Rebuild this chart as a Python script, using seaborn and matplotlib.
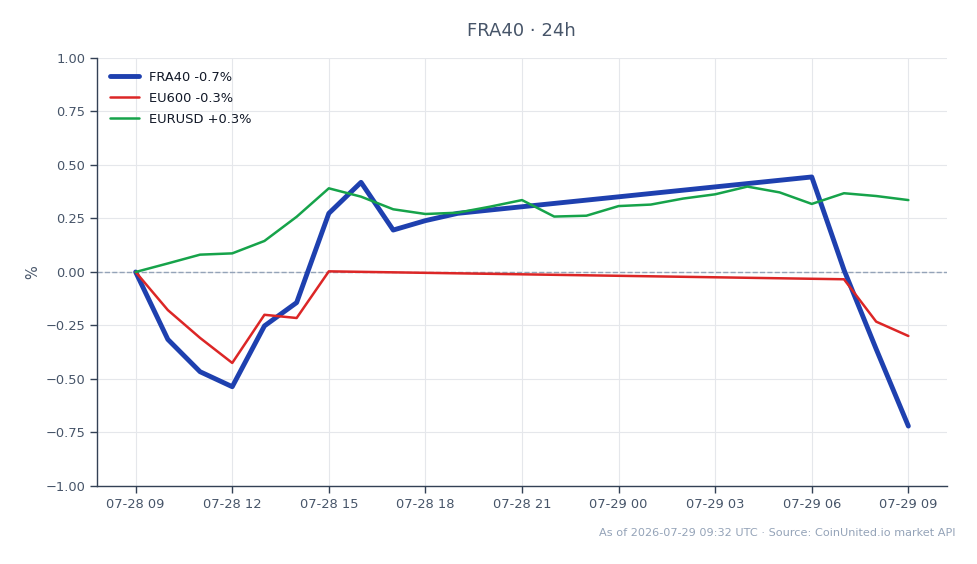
import matplotlib
matplotlib.use("Agg")
import matplotlib.pyplot as plt
import matplotlib.dates as mdates
import seaborn as sns
import pandas as pd
import numpy as np

# ---- data ----
fra40_times = ["2026-07-28 09:00", "2026-07-28 10:00", "2026-07-28 11:00", "2026-07-28 12:00",
               "2026-07-28 13:00", "2026-07-28 14:00", "2026-07-28 15:00", "2026-07-28 16:00",
               "2026-07-28 17:00", "2026-07-28 18:00", "2026-07-28 19:00",
               "2026-07-29 06:00", "2026-07-29 07:00", "2026-07-29 08:00", "2026-07-29 09:00"]
fra40_values = [0.0, -0.315, -0.466, -0.536, -0.252, -0.143, 0.274, 0.419,
                0.196, 0.240, 0.274, 0.444, 0.01, -0.36, -0.72]

eu600_times = ["2026-07-28 09:00", "2026-07-28 10:00", "2026-07-28 11:00", "2026-07-28 12:00",
               "2026-07-28 13:00", "2026-07-28 14:00", "2026-07-28 15:00",
               "2026-07-29 07:00", "2026-07-29 08:00", "2026-07-29 09:00"]
eu600_values = [0.0, -0.178, -0.308, -0.425, -0.20, -0.215, 0.003, -0.034, -0.232, -0.299]

eurusd_times = pd.date_range("2026-07-28 09:00", "2026-07-29 09:00", freq="h").strftime("%Y-%m-%d %H:%M").tolist()
eurusd_values = [0.0, 0.040, 0.081, 0.087, 0.145, 0.258, 0.391, 0.352, 0.293, 0.271,
                 0.277, 0.305, 0.336, 0.259, 0.263, 0.308, 0.315, 0.343, 0.363, 0.399,
                 0.372, 0.318, 0.368, 0.355, 0.336]

series_labels = ["FRA40 -0.7%", "EU600 -0.3%", "EURUSD +0.3%"]
series_colors = ["#1e40af", "#dc2626", "#16a34a"]
series_widths = [3.5, 1.8, 1.8]

title = "FRA40 · 24h"
footer = "As of 2026-07-29 09:32 UTC · Source: CoinUnited.io market API"

frames = []
for lab, t, v in zip(series_labels, [fra40_times, eu600_times, eurusd_times],
                     [fra40_values, eu600_values, eurusd_values]):
    frames.append(pd.DataFrame({"time": pd.to_datetime(t), "value": v, "series": lab}))
df = pd.concat(frames, ignore_index=True)

sns.set_theme(style="whitegrid")
plt.rcParams["font.family"] = ["DejaVu Sans"]

fig = plt.figure(figsize=(9.78, 5.64), dpi=100)
ax = fig.add_axes([0.0992, 0.1383, 0.8691, 0.7589])

for lab, col, lw in zip(series_labels, series_colors, series_widths):
    sub = df[df["series"] == lab]
    sns.lineplot(data=sub, x="time", y="value", ax=ax, color=col, linewidth=lw, label=lab)

ax.axhline(0, color="#94a3b8", linestyle="--", linewidth=1.0, zorder=1)

ax.set_ylim(-1.0, 1.0)
ax.set_yticks([-1.0, -0.75, -0.5, -0.25, 0.0, 0.25, 0.5, 0.75, 1.0])
ax.yaxis.set_major_formatter(matplotlib.ticker.FuncFormatter(
    lambda v, p: ("%.2f" % v).replace("-", "\u2212")))
ax.margins(x=0.05)
ax.xaxis.set_major_locator(mdates.HourLocator(byhour=range(0, 24, 3)))
ax.xaxis.set_major_formatter(mdates.DateFormatter("%m-%d %H"))

ax.set_xlabel("")
ax.set_ylabel("%", color="#475569", fontsize=10.5)
ax.grid(True, color="#e5e7eb", linewidth=0.8)
ax.set_facecolor("white")
for s in ["top", "right"]:
    ax.spines[s].set_visible(False)
for s in ["left", "bottom"]:
    ax.spines[s].set_visible(True)
    ax.spines[s].set_color("#334155")
    ax.spines[s].set_linewidth(1.0)
ax.tick_params(axis="both", colors="#334155", labelcolor="#475569", labelsize=9.4,
               length=5, width=1, direction="out", left=True, bottom=True)

leg = ax.legend(loc="upper left", frameon=False, fontsize=9.4, handlelength=2.2,
                borderaxespad=0.6, labelspacing=0.6)
for txt in leg.get_texts():
    txt.set_color("#111827")

fig.text(0.5335, 0.945, title, ha="center", va="center", fontsize=13, color="#475569")
fig.text(0.977, 0.055, footer, ha="right", va="center", fontsize=8.15, color="#94a3b8")

fig.savefig("out.png", dpi=100, facecolor="white")
